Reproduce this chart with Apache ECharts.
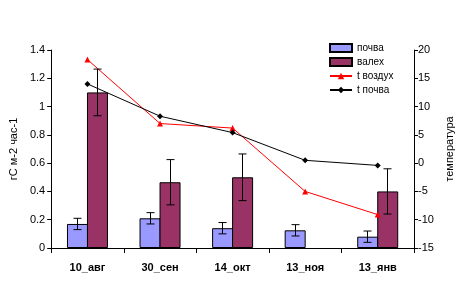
<!DOCTYPE html>
<html lang="ru">
<head>
    <meta charset="UTF-8"/>
    <title>soil flux</title>
    <script src="https://cdn.jsdelivr.net/npm/echarts@6/dist/echarts.min.js"></script>
</head>
<body style="margin:0;background:#fff">
<div id="main" style="width:466px;height:286px"></div>
<script type="text/javascript">
    // data
    var days = ['10_авг', '30_сен', '14_окт', '13_ноя', '13_янв'];
    var soil = [0.17, 0.21, 0.14, 0.125, 0.08];
    var soilErr = [0.04, 0.04, 0.04, 0.04, 0.04];
    var log = [1.1, 0.465, 0.5, null, 0.40];
    var logErr = [0.165, 0.16, 0.165, null, 0.16];
    var tAir = [18.3, 7.0, 6.2, -5.0, -9.1];
    var tSoil = [14.0, 8.3, 5.4, 0.5, -0.4];
    var fluxTicks = {min: 0, max: 1.4, step: 0.2};
    var tempTicks = {min: -15, max: 20, step: 5};

    var font = 'Liberation Sans, Arial, sans-serif';
    var barW = 21;
    // bars share one border line: overlap them by 1px
    var barGap = (-100 / barW).toFixed(4) + '%';

    function errData(vals, errs) {
        var out = [];
        for (var i = 0; i < vals.length; i++) {
            if (vals[i] == null) continue;
            out.push([i, vals[i] - errs[i], vals[i] + errs[i]]);
        }
        return out;
    }

    function errSeries(vals, errs, side) {
        return {
            type: 'custom',
            yAxisIndex: 0,
            z: 10,
            silent: true,
            data: errData(vals, errs),
            encode: {x: 0, y: [1, 2]},
            renderItem: function (params, api) {
                var lo = api.coord([api.value(0), api.value(1)]);
                var hi = api.coord([api.value(0), api.value(2)]);
                var x = Math.floor(lo[0] + side * (barW - 1) / 2) + 0.5;
                var cap = 4;
                var st = {stroke: '#000', lineWidth: 1};
                return {
                    type: 'group',
                    children: [
                        {type: 'line', shape: {x1: x, y1: hi[1], x2: x, y2: lo[1]}, style: st},
                        {type: 'line', shape: {x1: x - cap, y1: hi[1], x2: x + cap, y2: hi[1]}, style: st},
                        {type: 'line', shape: {x1: x - cap, y1: lo[1], x2: x + cap, y2: lo[1]}, style: st}
                    ]
                };
            }
        };
    }

    var myChart = echarts.init(document.getElementById('main'));

    var option = {
        animation: false,
        backgroundColor: '#fff',
        textStyle: {fontFamily: font},
        grid: {left: 49, right: 52, top: 50, bottom: 38},
        legend: {
            orient: 'vertical',
            left: 329,
            top: 43,
            padding: 0,
            itemWidth: 22,
            itemHeight: 8,
            itemGap: 4,
            textStyle: {fontFamily: font, fontSize: 10, color: '#000'},
            data: [
                {name: 'почва', icon: 'rect'},
                {name: 'валех', icon: 'rect'},
                {name: 't воздух'},
                {name: 't почва'}
            ]
        },
        xAxis: {
            type: 'category',
            data: days,
            axisLine: {lineStyle: {color: '#000', width: 1}},
            axisTick: {show: true, length: 5, lineStyle: {color: '#000'}},
            axisLabel: {color: '#000', fontWeight: 'bold', fontSize: 11, margin: 14, fontFamily: font},
            splitLine: {show: false}
        },
        yAxis: [
            {
                type: 'value',
                min: fluxTicks.min,
                max: fluxTicks.max,
                interval: fluxTicks.step,
                name: 'гС м-2 час-1',
                nameLocation: 'middle',
                nameGap: 24,
                nameRotate: 90,
                nameTextStyle: {color: '#000', fontSize: 11, fontFamily: font},
                axisLine: {show: true, lineStyle: {color: '#000'}},
                axisTick: {show: true, length: 4, lineStyle: {color: '#000'}},
                axisLabel: {color: '#000', fontSize: 11, margin: 6, fontFamily: font},
                splitLine: {show: false}
            },
            {
                type: 'value',
                min: tempTicks.min,
                max: tempTicks.max,
                interval: tempTicks.step,
                name: 'температура',
                nameLocation: 'middle',
                nameGap: 25,
                nameRotate: 90,
                nameTextStyle: {color: '#000', fontSize: 11, fontFamily: font},
                axisLine: {show: true, lineStyle: {color: '#000'}},
                axisTick: {show: true, length: 4, lineStyle: {color: '#000'}},
                axisLabel: {color: '#000', fontSize: 11, margin: 4, fontFamily: font},
                splitLine: {show: false}
            }
        ],
        series: [
            {
                name: 'почва',
                type: 'bar',
                data: soil,
                barWidth: barW,
                itemStyle: {color: '#9999FF', borderColor: '#000', borderWidth: 1}
            },
            {
                name: 'валех',
                type: 'bar',
                data: log,
                barWidth: barW,
                barGap: barGap,
                itemStyle: {color: '#993366', borderColor: '#000', borderWidth: 1}
            },
            {
                name: 't воздух',
                type: 'line',
                yAxisIndex: 1,
                data: tAir,
                symbol: 'triangle',
                symbolSize: 6,
                z: 5,
                lineStyle: {color: '#FF0000', width: 1},
                itemStyle: {color: '#FF0000'}
            },
            {
                name: 't почва',
                type: 'line',
                yAxisIndex: 1,
                data: tSoil,
                symbol: 'diamond',
                symbolSize: 6,
                z: 5,
                lineStyle: {color: '#000', width: 1},
                itemStyle: {color: '#000'}
            },
            errSeries(soil, soilErr, -1),
            errSeries(log, logErr, 1)
        ]
    };

    myChart.setOption(option);
</script>
</body>
</html>
